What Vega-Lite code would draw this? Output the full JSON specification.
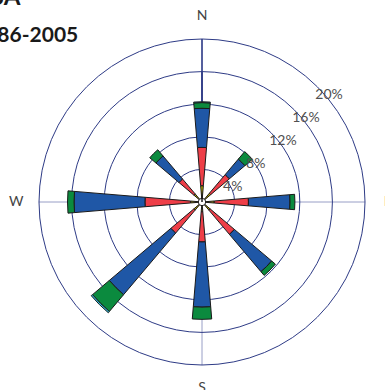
{
  "$schema": "https://vega.github.io/schema/vega-lite/v6.json",
  "width": 404,
  "height": 404,
  "autosize": "none",
  "padding": 0,
  "background": "white",
  "config": {"view": {"stroke": null}},
  "title": {
    "text": "USA",
    "subtitle": "1986-2005",
    "anchor": "start",
    "frame": "group",
    "orient": "top",
    "offset": 0,
    "dx": -27,
    "dy": 46,
    "font": "Lato",
    "fontSize": 24,
    "fontWeight": "bold",
    "color": "#1a1a1a",
    "subtitleFont": "Lato",
    "subtitleFontSize": 21,
    "subtitleFontWeight": "bold",
    "subtitleColor": "#1a1a1a",
    "subtitlePadding": 15
  },
  "layer": [
    {
      "data": {"values": [{"line": "EW"}]},
      "mark": {"type": "rule", "stroke": "#7d86b8", "strokeWidth": 0.8},
      "encoding": {
        "x": {"datum": -20, "type": "quantitative", "axis": null, "scale": {"domain": [-24.785, 24.785], "zero": false, "nice": false}},
        "x2": {"datum": 20},
        "y": {"datum": 0, "type": "quantitative", "axis": null, "scale": {"domain": [-24.785, 24.785], "zero": false, "nice": false}}
      }
    },
    {
      "data": {"values": [{"line": "NS"}]},
      "mark": {"type": "rule", "stroke": "#7d86b8", "strokeWidth": 0.8},
      "encoding": {
        "x": {"datum": 0, "type": "quantitative", "axis": null, "scale": {"domain": [-24.785, 24.785], "zero": false, "nice": false}},
        "y": {"datum": -20, "type": "quantitative", "axis": null, "scale": {"domain": [-24.785, 24.785], "zero": false, "nice": false}},
        "y2": {"datum": 20}
      }
    },
    {
      "data": {"values": [{"v": 4}, {"v": 8}, {"v": 12}, {"v": 16}, {"v": 20}]},
      "mark": {"type": "arc", "theta": 0, "theta2": 6.283185307, "filled": false, "stroke": "#2e3b86", "strokeWidth": 1},
      "encoding": {
        "radius": {"field": "v", "type": "quantitative", "stack": null, "scale": {"type": "linear", "domain": [0, 20], "range": [0, 163], "zero": true}}
      }
    },
    {
      "data": {"values": [
        {"dir": 0, "speed": "a", "r0": 0, "r1": 2.0},
        {"dir": 0, "speed": "b", "r0": 2.0, "r1": 6.7},
        {"dir": 0, "speed": "c", "r0": 6.7, "r1": 11.5},
        {"dir": 0, "speed": "d", "r0": 11.5, "r1": 12.2},
        {"dir": 0, "speed": "e", "r0": 12.2, "r1": 12.3},
        {"dir": 45, "speed": "a", "r0": 0, "r1": 1.4},
        {"dir": 45, "speed": "b", "r0": 1.4, "r1": 4.4},
        {"dir": 45, "speed": "c", "r0": 4.4, "r1": 6.9},
        {"dir": 45, "speed": "d", "r0": 6.9, "r1": 8.1},
        {"dir": 90, "speed": "a", "r0": 0, "r1": 1.5},
        {"dir": 90, "speed": "b", "r0": 1.5, "r1": 5.7},
        {"dir": 90, "speed": "c", "r0": 5.7, "r1": 10.8},
        {"dir": 90, "speed": "d", "r0": 10.8, "r1": 11.4},
        {"dir": 135, "speed": "a", "r0": 0, "r1": 1.3},
        {"dir": 135, "speed": "b", "r0": 1.3, "r1": 5.2},
        {"dir": 135, "speed": "c", "r0": 5.2, "r1": 11.2},
        {"dir": 135, "speed": "d", "r0": 11.2, "r1": 11.8},
        {"dir": 180, "speed": "a", "r0": 0, "r1": 1.2},
        {"dir": 180, "speed": "b", "r0": 1.2, "r1": 4.9},
        {"dir": 180, "speed": "c", "r0": 4.9, "r1": 12.9},
        {"dir": 180, "speed": "d", "r0": 12.9, "r1": 14.4},
        {"dir": 225, "speed": "a", "r0": 0, "r1": 1.3},
        {"dir": 225, "speed": "b", "r0": 1.3, "r1": 5.0},
        {"dir": 225, "speed": "c", "r0": 5.0, "r1": 14.9},
        {"dir": 225, "speed": "d", "r0": 14.9, "r1": 17.6},
        {"dir": 225, "speed": "e", "r0": 17.6, "r1": 17.8},
        {"dir": 270, "speed": "a", "r0": 0, "r1": 1.4},
        {"dir": 270, "speed": "b", "r0": 1.4, "r1": 7.0},
        {"dir": 270, "speed": "c", "r0": 7.0, "r1": 15.7},
        {"dir": 270, "speed": "d", "r0": 15.7, "r1": 16.5},
        {"dir": 315, "speed": "a", "r0": 0, "r1": 1.3},
        {"dir": 315, "speed": "b", "r0": 1.3, "r1": 3.7},
        {"dir": 315, "speed": "c", "r0": 3.7, "r1": 7.4},
        {"dir": 315, "speed": "d", "r0": 7.4, "r1": 8.4}
      ]},
      "mark": {"type": "arc", "thetaOffset": -0.083, "theta2Offset": 0.083, "stroke": "#1a1a1a", "strokeWidth": 1, "strokeJoin": "miter"},
      "encoding": {
        "theta": {"field": "dir", "type": "quantitative", "stack": null, "scale": {"domain": [0, 360], "range": [0, 6.283185307], "zero": true}},
        "theta2": {"field": "dir"},
        "radius": {"field": "r1", "type": "quantitative", "scale": {"type": "linear", "domain": [0, 20], "range": [0, 163], "zero": true}},
        "radius2": {"field": "r0"},
        "color": {"field": "speed", "type": "nominal", "legend": null,
          "scale": {"domain": ["a", "b", "c", "d", "e"], "range": ["#b8a800", "#ee3e48", "#1f57a6", "#0b8a3e", "#2fc3e4"]}}
      }
    },
    {
      "data": {"values": [{"hole": 1}]},
      "mark": {"type": "arc", "theta": 0, "theta2": 6.283185307, "fill": "white", "stroke": "#1a1a1a", "strokeWidth": 1},
      "encoding": {
        "radius": {"datum": 0.45, "type": "quantitative", "stack": null, "scale": {"type": "linear", "domain": [0, 20], "range": [0, 163], "zero": true}}
      }
    },
    {
      "data": {"values": [{"v": 4, "lab": "4%"}, {"v": 8, "lab": "8%"}, {"v": 12, "lab": "12%"}, {"v": 16, "lab": "16%"}, {"v": 20, "lab": "20%"}]},
      "mark": {"type": "text", "align": "left", "baseline": "top", "dy": 1, "dx": -2, "font": "Lato", "fontSize": 14, "color": "#505050"},
      "encoding": {
        "theta": {"datum": 45, "type": "quantitative", "stack": null, "scale": {"domain": [0, 360], "range": [0, 6.283185307], "zero": true}},
        "radius": {"field": "v", "type": "quantitative", "stack": null, "scale": {"type": "linear", "domain": [0, 20], "range": [0, 163], "zero": true}},
        "text": {"field": "lab"}
      }
    },
    {
      "data": {"values": [{"dir": 0, "lab": "N"}, {"dir": 90, "lab": "E"}, {"dir": 180, "lab": "S"}, {"dir": 270, "lab": "W"}]},
      "mark": {"type": "text", "align": "center", "baseline": "middle", "font": "Lato", "fontSize": 14, "color": "#444444"},
      "encoding": {
        "theta": {"field": "dir", "type": "quantitative", "stack": null, "scale": {"domain": [0, 360], "range": [0, 6.283185307], "zero": true}},
        "radius": {"datum": 22.8, "type": "quantitative", "stack": null, "scale": {"type": "linear", "domain": [0, 20], "range": [0, 163], "zero": true}},
        "text": {"field": "lab"}
      }
    }
  ]
}
